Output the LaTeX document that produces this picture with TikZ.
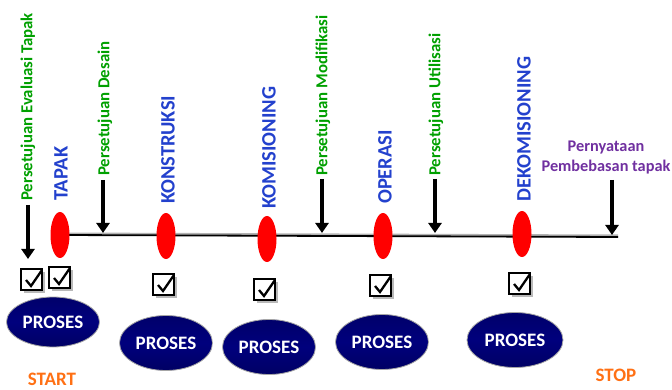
\documentclass[tikz,border=0pt]{standalone}
\usepackage{fontspec}
\setmainfont{Carlito}
\usepackage{tikz}
\usetikzlibrary{arrows.meta,shapes.geometric,backgrounds}

\definecolor{setuju}{RGB}{0,160,0}
\definecolor{fase}{RGB}{35,65,205}
\definecolor{ungu}{RGB}{112,48,160}
\definecolor{oranye}{RGB}{255,112,20}
\definecolor{navy}{RGB}{0,0,125}

\tikzset{
  titik/.style={ellipse,fill=red,inner sep=0pt,minimum width=19pt,minimum height=46pt},
  proses/.style={ellipse,draw=gray!70,line width=0.8pt,inner sep=0pt,
    top color=navy!85!black,bottom color=navy!80!black,middle color=navy,
    minimum width=93pt,minimum height=55pt,text=white,
    font=\fontsize{19}{22}\selectfont\bfseries},
  fasetext/.style={rotate=90,anchor=west,inner sep=0pt,text=fase,
    font=\fontsize{20.5}{22}\selectfont\bfseries},
  setujutext/.style={rotate=90,anchor=west,inner sep=0pt,text=setuju,
    font=\fontsize{16.8}{18}\selectfont\bfseries},
  panah/.style={line width=3.5pt,-{Triangle[length=10pt,width=13pt]}},
  ujung/.style={text=oranye,font=\fontsize{19}{22}\selectfont\bfseries}
}

\begin{document}
\begin{tikzpicture}[>=Stealth,x=1pt,y=-1pt]
            \useasboundingbox (0,0) rectangle (672,390);
            % tahapan (red dots)
            \node[titik] (tapak) at (60,235) {};
            \node[titik] (konstruksi) at (166,236) {};
            \node[titik] (komisioning) at (267,239) {};
            \node[titik] (operasi) at (383,236) {};
            \node[titik] (dekomisioning) at (522,234) {};
            \coordinate (akhir) at (618,237);
            \begin{scope}[on background layer]
                \draw[gray!60,line width=3pt] ([yshift=1pt]tapak.center) -- ([yshift=1pt]akhir);
                \draw[line width=1.8pt] (tapak.center) -- (akhir);
            \end{scope}
            % nama tahapan
            \node[fasetext] (ttapak) at (61,201) {TAPAK};
            \node[fasetext] (tkonstruksi) at (168,204) {KONSTRUKSI};
            \node[fasetext] (tkomisioning) at (269,209) {KOMISIONING};
            \node[fasetext] (toperasi) at (385,204) {OPERASI};
            \node[fasetext] (tdekomisioning) at (524,202) {DEKOMISIONING};
            % persetujuan
            \node[setujutext] (sevaluasi) at (28,201) {Persetujuan Evaluasi Tapak};
            \node[setujutext] (sdesain) at (105,176) {Persetujuan Desain};
            \node[setujutext] (smodifikasi) at (323,176) {Persetujuan Modifikasi};
            \node[setujutext] (sutilisasi) at (436,176) {Persetujuan Utilisasi};
            \node[text=ungu,font=\fontsize{16.3}{20}\selectfont\bfseries,align=center,inner sep=0pt]
                (pembebasan) at (606,157) {Pernyataan\\Pembebasan tapak};
            % panah
            \coordinate (a1) at (28,205);  \coordinate (b1) at (28,259);
            \coordinate (a2) at (103,180); \coordinate (b2) at (103,233);
            \coordinate (a3) at (322,179); \coordinate (b3) at (322,233);
            \coordinate (a4) at (435,179); \coordinate (b4) at (435,233);
            \coordinate (a5) at (612,180); \coordinate (b5) at (612,235);
            \foreach \i in {1,...,5}
                \draw[panah] (a\i) -- (b\i);
            % kotak centang
            \foreach \bx/\by in {32/280, 60/278, 164/285, 265/290, 381/286, 520/284} {
                \fill[gray!55] (\bx-8,\by-8) rectangle (\bx+13,\by+13);
                \draw[line width=2.4pt,fill=white] (\bx-11,\by-11) rectangle (\bx+10,\by+10);
                \draw[line width=2.3pt] (\bx-6,\by) -- (\bx-1,\by+6) -- (\bx+10,\by-10);
            }
            % proses
            \node[proses,minimum height=50pt] (p1) at (53,322) {PROSES};
            \node[proses] (p2) at (166,343) {PROSES};
            \node[proses] (p3) at (269,347) {PROSES};
            \node[proses] (p4) at (382,342) {PROSES};
            \node[proses,minimum width=96pt] (p5) at (515,340) {PROSES};
            \node[ujung] (start) at (52,379) {START};
            \node[ujung] (stop) at (616,375) {STOP};
        \end{tikzpicture}
\end{document}
